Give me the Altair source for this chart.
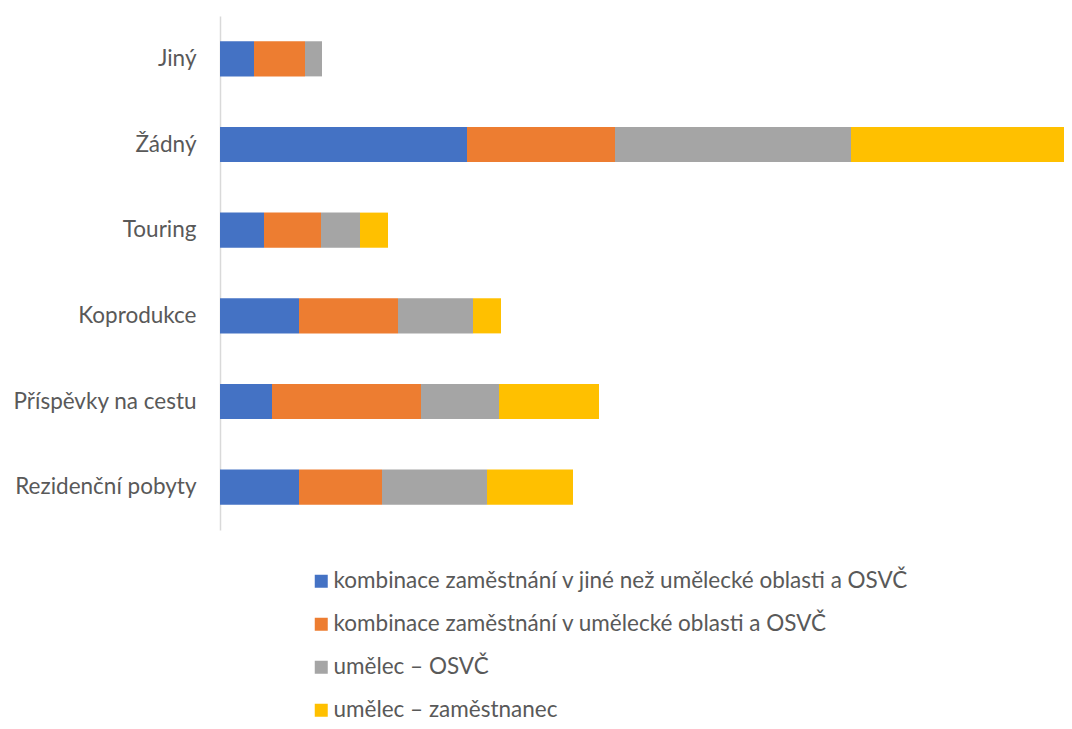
import altair as alt
import pandas as pd

categories = ["Jiný", "Žádný", "Touring", "Koprodukce", "Příspěvky na cestu", "Rezidenční pobyty"]
series = [
    "kombinace zaměstnání v jiné než umělecké oblasti a OSVČ",
    "kombinace zaměstnání v umělecké oblasti a OSVČ",
    "umělec – OSVČ",
    "umělec – zaměstnanec",
]
blue_vals = [34, 247, 44, 79, 52, 79]
orange_vals = [51, 148, 57, 99, 149, 83]
gray_vals = [17, 236, 39, 75, 78, 105]
yellow_vals = [0, 222, 28, 28, 100, 86]
colors = ["#4472C4", "#ED7D31", "#A5A5A5", "#FFC000"]

rows = []
for si, vals in enumerate([blue_vals, orange_vals, gray_vals, yellow_vals]):
    for c, v in zip(categories, vals):
        rows.append({"category": c, "series": series[si], "idx": si, "value": v})
df = pd.DataFrame(rows)

FONT = "Lato"
TXT = "#595959"

chart = alt.Chart(df).mark_bar(clip=True).encode(
    y=alt.Y(
        "category:N",
        sort=categories,
        scale=alt.Scale(paddingInner=0.59, paddingOuter=0.295),
        axis=alt.Axis(
            title=None, ticks=False, labelPadding=24, labelFontSize=22.5,
            labelColor=TXT, labelFont=FONT, domainColor="#D9D9D9",
            domainWidth=1.5, grid=False, labelLimit=400,
        ),
    ),
    x=alt.X(
        "value:Q", stack="zero",
        scale=alt.Scale(domain=[0, 844], nice=False, zero=True),
        axis=None,
    ),
    color=alt.Color(
        "series:N",
        sort=series,
        scale=alt.Scale(domain=series, range=colors),
        legend=alt.Legend(
            title=None, orient="none", legendX=90, legendY=554,
            direction="vertical", symbolType="square", symbolSize=169,
            symbolStrokeWidth=0, symbolOpacity=1, labelFontSize=22.5,
            labelFont=FONT, labelColor=TXT, rowPadding=20, labelLimit=0,
            labelOffset=1, padding=0,
        ),
    ),
    order=alt.Order("idx:Q"),
).properties(
    width=844,
    height=514,
    padding={"left": 212, "top": 8, "right": 0, "bottom": 191},
    autosize=alt.AutoSizeParams(type="none"),
).configure_view(stroke=None)

chart.save("out.html", embed_options={"renderer": "svg", "actions": False})
